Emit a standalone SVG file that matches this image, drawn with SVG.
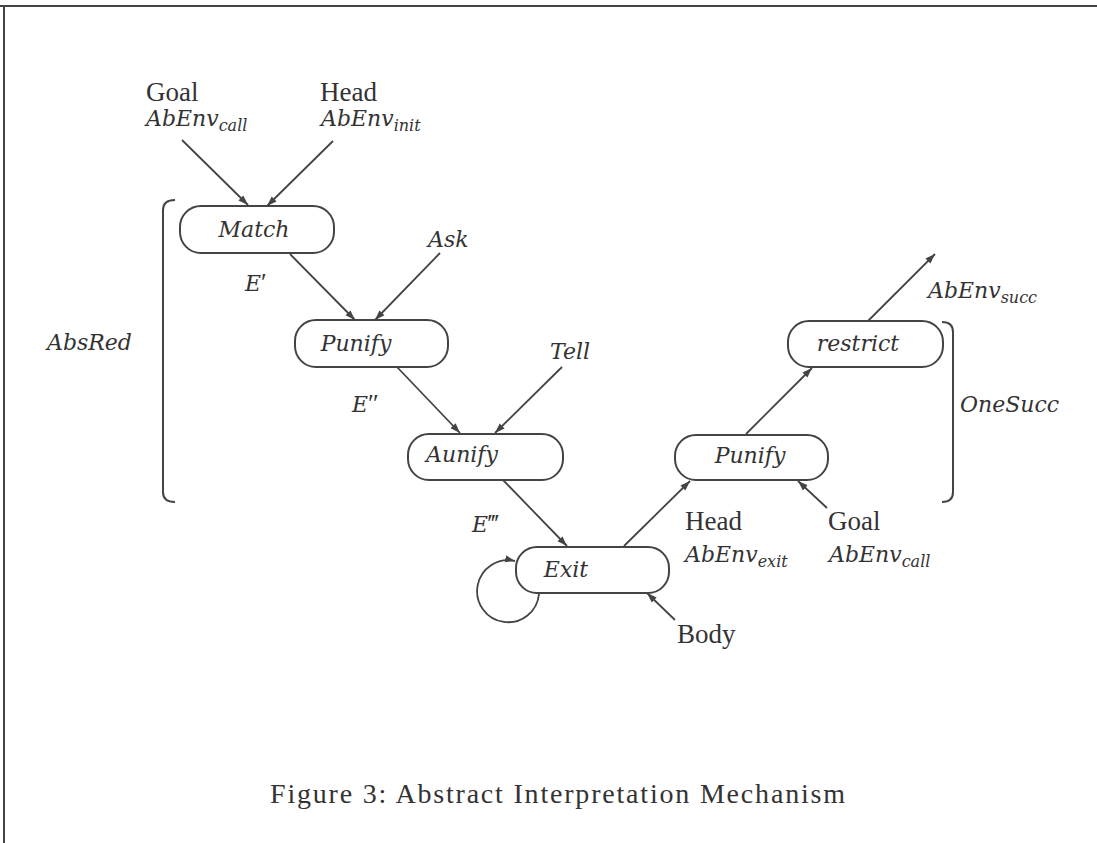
<svg xmlns="http://www.w3.org/2000/svg" width="1097" height="843" viewBox="0 0 1097 843">
<defs>
<marker id="ah" markerUnits="userSpaceOnUse" markerWidth="11" markerHeight="8" refX="10" refY="4" orient="auto">
<path d="M0,0.5 L10,4 L0,7.5 z" fill="#444"/>
</marker>
</defs>
<style>
.node rect{fill:#fff;stroke:#444;stroke-width:2}
.lab{font-family:"Liberation Serif",serif;font-size:27px;fill:#333}
.it{font-family:"DejaVu Serif","Liberation Serif",serif;font-style:italic;font-size:22px}
.sub{font-size:16px}
.pr{font-family:"Liberation Serif",serif;font-style:normal;font-size:26px}
.ed line,.ed path{stroke:#444;stroke-width:1.8;fill:none;marker-end:url(#ah)}
.br{stroke:#444;stroke-width:2;fill:none}
</style>
<rect x="0" y="0" width="1097" height="843" fill="#fff"/>
<g id="frame"><path class="br" d="M0,6 H1097 M4,6 V843"/></g>

<g id="connectors" class="ed">
<line x1="182" y1="140" x2="248" y2="205"/>
<line x1="333" y1="141" x2="267" y2="206"/>
<line x1="290" y1="254" x2="355" y2="320"/>
<line x1="440" y1="253" x2="375" y2="320"/>
<line x1="397" y1="367" x2="460" y2="433"/>
<line x1="562" y1="367" x2="495" y2="433"/>
<line x1="503" y1="480" x2="567" y2="546"/>
<line x1="624" y1="546" x2="690" y2="481"/>
<line x1="746" y1="434" x2="812" y2="368"/>
<line x1="868" y1="321" x2="935" y2="254"/>
<line x1="827" y1="508" x2="798" y2="481"/>
<line x1="675" y1="620" x2="647" y2="593"/>
<path d="M539,594 A31,31 0 1 1 515,561"/>
</g>

<g id="brackets">
<path class="br" d="M175,200 Q163,200 163,210 V492 Q163,502 175,502"/>
<path class="br" d="M942,322 Q953,322 953,332 V492 Q953,502 942,502"/>
</g>

<g id="n-match" class="node"><rect x="180" y="206" width="154" height="47" rx="21"/><text class="lab it" x="254" y="237" text-anchor="middle">Match</text></g>
<g id="n-punify1" class="node"><rect x="295" y="320" width="153" height="47" rx="21"/><text class="lab it" x="356" y="351" text-anchor="middle">Punify</text></g>
<g id="n-aunify" class="node"><rect x="408" y="434" width="155" height="46" rx="21"/><text class="lab it" x="462" y="462" text-anchor="middle">Aunify</text></g>
<g id="n-exit" class="node"><rect x="516" y="547" width="153" height="46" rx="21"/><text class="lab it" x="566" y="577" text-anchor="middle">Exit</text></g>
<g id="n-punify2" class="node"><rect x="675" y="435" width="153" height="45" rx="21"/><text class="lab it" x="750" y="463" text-anchor="middle">Punify</text></g>
<g id="n-restrict" class="node"><rect x="788" y="321" width="155" height="46" rx="21"/><text class="lab it" x="858" y="351" text-anchor="middle">restrict</text></g>

<g id="labels">
<text class="lab" x="146" y="101">Goal</text>
<text class="lab it" x="146" y="126">AbEnv<tspan class="sub" dy="5">call</tspan></text>
<text class="lab" x="320" y="101">Head</text>
<text class="lab it" x="321" y="126">AbEnv<tspan class="sub" dy="5">init</tspan></text>
<text class="lab it" x="428" y="247">Ask</text>
<text class="lab it" x="550" y="359">Tell</text>
<text class="lab it" x="245" y="291">E<tspan class="pr">′</tspan></text>
<text class="lab it" x="352" y="412">E<tspan class="pr">″</tspan></text>
<text class="lab it" x="472" y="532">E<tspan class="pr">‴</tspan></text>
<text class="lab" x="685" y="530">Head</text>
<text class="lab it" x="685" y="562">AbEnv<tspan class="sub" dy="5">exit</tspan></text>
<text class="lab" x="828" y="530">Goal</text>
<text class="lab it" x="829" y="562">AbEnv<tspan class="sub" dy="5">call</tspan></text>
<text class="lab" x="677" y="643">Body</text>
<text class="lab it" x="928" y="298">AbEnv<tspan class="sub" dy="5">succ</tspan></text>
<text class="lab it" x="960" y="412">OneSucc</text>
<text class="lab it" x="47" y="350">AbsRed</text>
<text class="lab" x="270" y="803" textLength="575" lengthAdjust="spacing" style="font-size:28px">Figure 3: Abstract Interpretation Mechanism</text>
</g>
</svg>
